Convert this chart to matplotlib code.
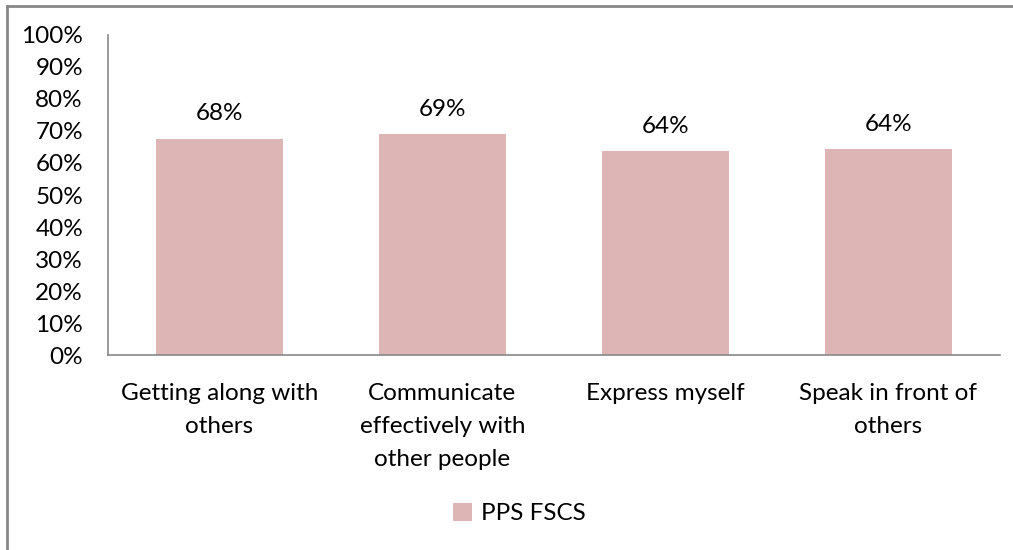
import matplotlib.pyplot as plt
from matplotlib.lines import Line2D
from matplotlib.ticker import PercentFormatter

plt.rcParams['font.family'] = ['Lato', 'DejaVu Sans']

categories = ["Getting along with\nothers",
              "Communicate\neffectively with\nother people",
              "Express myself",
              "Speak in front of\nothers"]
values = [0.676, 0.69, 0.636, 0.644]
series_name = "PPS FSCS"

bar_color = "#DDB5B5"
axis_color = "#888888"
fs = 17.5

fig = plt.figure(figsize=(10.13, 5.5), dpi=100)
ax = fig.add_axes([0.1066, 0.3545, 0.8804, 0.5819])

x = range(len(categories))
bars = ax.bar(x, values, width=0.57, color=bar_color, label=series_name)

for b, v in zip(bars, values):
    ax.text(b.get_x() + b.get_width() / 2, v + 0.045, "{:.0%}".format(v),
            ha="center", va="bottom", fontsize=fs)

ax.set_xlim(-0.5, len(categories) - 0.5)
ax.set_ylim(0, 1)
ax.set_yticks([i / 10 for i in range(11)])
ax.yaxis.set_major_formatter(PercentFormatter(1.0, decimals=0))
ax.set_xticks(list(x))
ax.set_xticklabels(categories, fontsize=fs, linespacing=1.7)
ax.tick_params(axis="both", length=0, labelsize=fs)
ax.tick_params(axis="x", pad=20)
ax.tick_params(axis="y", pad=18)

for s in ["top", "right"]:
    ax.spines[s].set_visible(False)
for s in ["left", "bottom"]:
    ax.spines[s].set_color(axis_color)
    ax.spines[s].set_linewidth(1.2)

fig.legend(loc="center", bbox_to_anchor=(0.513, 0.066), frameon=False,
           fontsize=fs, handlelength=0.75, handleheight=0.75, handletextpad=0.4)

# outer chart frame (top and left edges visible)
fig.add_artist(Line2D([0.0066, 1.0], [0.9900, 0.9900], color=axis_color, lw=2,
                      transform=fig.transFigure))
fig.add_artist(Line2D([0.0066, 0.0066], [0.0, 0.9900], color=axis_color, lw=2,
                      transform=fig.transFigure))

fig.savefig("out.png", dpi=100)
